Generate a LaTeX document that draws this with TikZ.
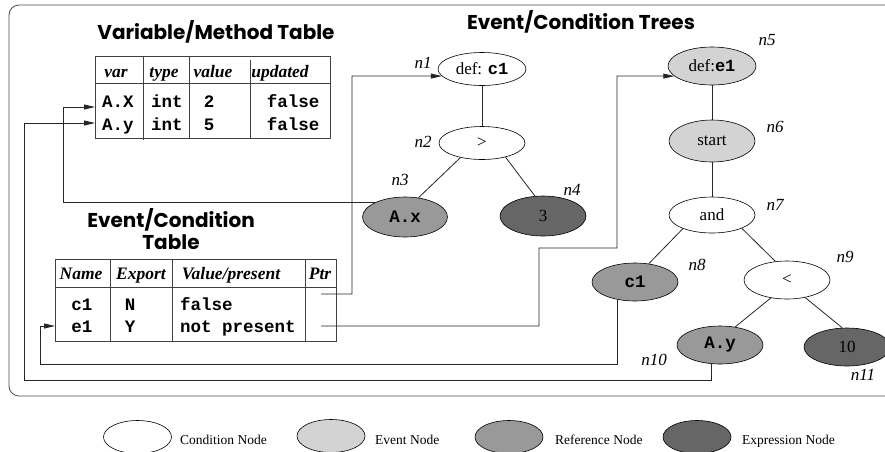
\documentclass[tikz,border=0pt]{standalone}
\usepackage{fontspec}
\setmainfont{Liberation Serif}
\setmonofont{Liberation Mono}
\newfontfamily\titlefont{Poppins}
\usetikzlibrary{arrows.meta,shapes.geometric}
\definecolor{evgray}{RGB}{211,211,211}
\definecolor{refgray}{RGB}{153,153,153}
\definecolor{exgray}{RGB}{102,102,102}
\newcommand\monotxt[1]{{\ttfamily\bfseries #1}}
\begin{document}
\begin{tikzpicture}[x=1pt,y=-1pt,
  every node/.style={inner sep=0pt},
  tnode/.style={ellipse,draw=black,line width=0.6pt,minimum width=86pt,minimum height=38pt,inner sep=0pt,font=\fontsize{17}{17}\selectfont},
  cond/.style={tnode,fill=white},
  event/.style={tnode,fill=evgray},
  refn/.style={tnode,fill=refgray},
  expr/.style={tnode,fill=exgray},
  lbl/.style={font=\fontsize{17}{17}\selectfont\itshape},
  ttl/.style={font=\titlefont\bfseries\fontsize{20}{22}\selectfont},
  hdr/.style={anchor=base,font=\fontsize{17.5}{18}\selectfont\bfseries\itshape},
  mono/.style={anchor=base,font=\ttfamily\bfseries\fontsize{17.5}{18}\selectfont},
  conn/.style={draw=black!85,line width=0.8pt},
  arr/.style={conn,-{Triangle[length=11pt,width=5pt]}},
  grid/.style={draw=black!75,line width=0.7pt},
  frame/.style={draw=black!70,line width=0.8pt},
  legnode/.style={minimum width=68pt,minimum height=33pt},
  legtext/.style={font=\fontsize{13.5}{14}\selectfont,anchor=base west}
]
\clip (0,0) rectangle (885,451);
\fill[white] (0,0) rectangle (885,451);
% frame
\draw[frame,rounded corners=10pt] (9,5) rectangle (905,396);
% titles
\node[ttl] (t1) at (216,32) {Variable/Method Table};
\node[ttl] (t2) at (581,22) {Event/Condition Trees};
\node[ttl,align=center] (t3) at (171,229) {Event/Condition\\Table};
% variable/method table
\draw[grid] (95,56) rectangle (330,138);
\draw[grid] (95,83) -- (330,83);
\draw[grid] (143,56) -- (143,140);
\draw[grid] (189,56) -- (189,138);
\draw[grid] (250,60) -- (250,138);
\node[hdr] (hvar) at (116,77) {var};
\node[hdr] (htype) at (164,77) {type};
\node[hdr] (hval) at (213,77) {value};
\node[hdr] (hupd) at (280,77) {updated};
\node[mono] (ax) at (118,107) {A.X};
\node[mono] (axt) at (167,107) {int};
\node[mono] (axv) at (209,107) {2};
\node[mono] (axu) at (293,107) {false};
\node[mono] (ay) at (118,130) {A.y};
\node[mono] (ayt) at (167,130) {int};
\node[mono] (ayv) at (209,130) {5};
\node[mono] (ayu) at (293,130) {false};
\coordinate (axin) at (95,107);
\coordinate (ayin) at (95,123);
% event/condition table
\draw[grid] (55,259) rectangle (336,341);
\draw[grid] (55,287) -- (336,287);
\draw[grid] (110,259) -- (110,341);
\draw[grid] (172,259) -- (172,341);
\draw[grid] (305,259) -- (305,341);
\node[hdr] (hname) at (81,279) {Name};
\node[hdr] (hexp) at (141,279) {Export};
\node[hdr] (hvp) at (231,279) {Value/present};
\node[hdr] (hptr) at (320,279) {Ptr};
\node[mono] (c1) at (82,310) {c1};
\node[mono] (c1x) at (130,310) {N};
\node[mono,anchor=base west] (c1v) at (180,310) {false};
\node[mono] (e1) at (82,332) {e1};
\node[mono] (e1x) at (130,332) {Y};
\node[mono,anchor=base west] (e1v) at (180,332) {not present};
\coordinate (e1in) at (55,326);
\coordinate (c1ptr) at (321,294);
\coordinate (e1ptr) at (321,326);
% tree 1
\node[cond,minimum width=88pt,minimum height=33pt] (n1) at (482,69) {def: \monotxt{c1}};
\node[cond,minimum height=33pt] (n2) at (482,143) {>};
\node[refn,minimum width=85pt,minimum height=40pt,font=\ttfamily\bfseries\fontsize{17.5}{18}\selectfont] (n3) at (405,217) {A.x};
\node[expr,minimum height=40pt] (n4) at (543,216) {3};
% tree 2
\node[event,minimum width=88pt] (n5) at (712,66) {def:\monotxt{e1}};
\node[event,minimum height=42pt] (n6) at (712,141) {start};
\node[cond,minimum height=36pt] (n7) at (712,215) {and};
\node[refn,font=\ttfamily\bfseries\fontsize{17.5}{18}\selectfont] (n8) at (635,282) {c1};
\node[cond] (n9) at (787,280) {<};
\node[refn,font=\ttfamily\bfseries\fontsize{17.5}{18}\selectfont] (n10) at (720,345) {A.y};
\node[expr] (n11) at (847,347) {10};
% labels
\node[lbl] (l1) at (423,63) {n1};
\node[lbl] (l2) at (423,142) {n2};
\node[lbl] (l3) at (400,180) {n3};
\node[lbl] (l4) at (572,190) {n4};
\node[lbl] (l5) at (767,40) {n5};
\node[lbl] (l6) at (775,127) {n6};
\node[lbl] (l7) at (775,205) {n7};
\node[lbl] (l8) at (697,265) {n8};
\node[lbl] (l9) at (845,257) {n9};
\node[lbl] (l10) at (654,360) {n10};
\node[lbl] (l11) at (863,375) {n11};
% tree edges
\draw[conn] (n1) -- (n2);
\draw[conn] (n2.214) -- (n3.55);
\draw[conn] (n2.329) -- (n4.112);
\draw[conn] (n5) -- (n6);
\draw[conn] (n6) -- (n7);
\draw[conn] (n7.205) -- (n8.53);
\draw[conn] (n7.336) -- (n9.122);
\draw[conn] (n9.228) -- (n10.50);
\draw[conn] (n9.316) -- (n11.104);
% connectors
\coordinate (axbend) at (63,107);
\coordinate (aybend) at (24,380);
\coordinate (e1bend) at (40,364);
\coordinate (c1bend) at (352,76);
\coordinate (e1b1) at (539,248);
\coordinate (e1b2) at (617,76);
\draw[arr] (n3.153) -| (axbend) -- (axin);
\draw[arr] (n10.245) |- (aybend) |- (ayin);
\draw[arr] (n8.226) |- (e1bend) |- (e1in);
\draw[arr] (c1ptr) -| (c1bend) -- (n1.190);
\draw[arr] (e1ptr) -| (e1b1) -| (e1b2) -- (n5.195);
% legend
\node[cond,legnode] (lc) at (137.5,437) {};
\node[legtext] (lct) at (180,444) {Condition Node};
\node[event,legnode] (le) at (331,436) {};
\node[legtext] (let) at (375,444) {Event Node};
\node[refn,legnode] (lr) at (509,437) {};
\node[legtext] (lrt) at (555,444) {Reference Node};
\node[expr,legnode] (lx) at (697,437) {};
\node[legtext] (lxt) at (742,444) {Expression Node};
\end{tikzpicture}
\end{document}
